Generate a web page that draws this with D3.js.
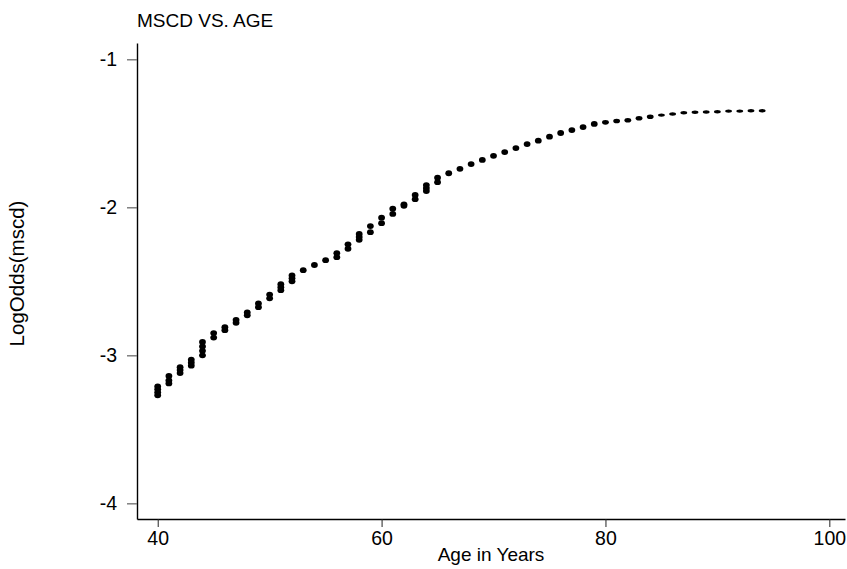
<!DOCTYPE html>
<html>
<head>
<meta charset="utf-8">
<script src="https://cdn.jsdelivr.net/npm/d3@7"></script>
<style>
  html, body { margin: 0; padding: 0; background: #fff; }
  svg { display: block; font-family: "Liberation Sans", Arial, sans-serif; }
</style>
</head>
<body>
<svg id="chart" width="847" height="569"></svg>
<script>
// ---- data ----
const title = "MSCD VS. AGE";
const xLabel = "Age in Years";
const yLabel = "LogOdds(mscd)";
const xTicks = [40, 60, 80, 100];
const yTicks = [-1, -2, -3, -4];
const ages = [40,41,42,43,44,45,46,47,48,49,50,51,52,53,54,55,56,57,58,59,60,61,62,63,64,65,66,67,68,69,70,71,72,73,74,75,76,77,78,79,80,81,82,83,84,85,86,87,88,89,90,91,92,93,94];
const logOdds = [
  [-3.21,-3.23,-3.25,-3.27],
  [-3.14,-3.17,-3.19],
  [-3.08,-3.10,-3.12],
  [-3.03,-3.05,-3.07],
  [-2.91,-2.94,-2.97,-3.00],
  [-2.85,-2.88],
  [-2.81,-2.83],
  [-2.76,-2.78],
  [-2.71,-2.73],
  [-2.65,-2.675],
  [-2.59,-2.615],
  [-2.52,-2.54,-2.56],
  [-2.46,-2.48,-2.50],
  [-2.425],
  [-2.39],
  [-2.357],
  [-2.31,-2.337],
  [-2.25,-2.28],
  [-2.18,-2.20,-2.22],
  [-2.127,-2.168],
  [-2.07,-2.107],
  [-2.01,-2.045],
  [-1.98,-1.99],
  [-1.917,-1.945],
  [-1.85,-1.87,-1.89],
  [-1.80,-1.83],
  [-1.77],
  [-1.74],
  [-1.708],
  [-1.68],
  [-1.652],
  [-1.627],
  [-1.60],
  [-1.573],
  [-1.55],
  [-1.523],
  [-1.498],
  [-1.478],
  [-1.458],
  [-1.437],
  [-1.426],
  [-1.417],
  [-1.412],
  [-1.398],
  [-1.388],
  [-1.377],
  [-1.37],
  [-1.361],
  [-1.358],
  [-1.356],
  [-1.354],
  [-1.35],
  [-1.35],
  [-1.348],
  [-1.348]
];

// ---- layout ----
const svg = d3.select("#chart");
const mLeft = 137, mRight = 845, mTop = 43, mBottom = 519;
const FONT = "'Liberation Sans', Arial, sans-serif";

const x = d3.scaleLinear().domain([38.15, 101.4]).range([mLeft, mRight]);
const y = d3.scaleLinear().domain([-4.106, -0.89]).range([mBottom, mTop]);

const points = [];
ages.forEach((a, i) => logOdds[i].forEach(v => points.push({age: a, v: v})));

// markers
svg.append("g").selectAll("ellipse").data(points).join("ellipse")
  .attr("cx", d => x(d.age))
  .attr("cy", d => y(d.v))
  .attr("rx", 3.4)
  .attr("ry", d => d.age > 84 ? 1.7 : (d.age > 79 ? 2.3 : 2.9))
  .attr("fill", "#000");

// axes
const xAxis = d3.axisBottom(x).tickValues(xTicks).tickSize(8).tickPadding(4).tickSizeOuter(0);
const gx = svg.append("g").attr("transform", `translate(0,${mBottom})`).call(xAxis);
gx.select(".domain").attr("stroke", "#000").attr("stroke-width", 1.4);
gx.selectAll(".tick line").attr("stroke", "#222");
gx.selectAll(".tick text").attr("font-size", 19.5).attr("fill", "#000")
  .attr("font-family", FONT);

const yAxis = d3.axisLeft(y).tickValues(yTicks).tickSize(10).tickPadding(10).tickSizeOuter(0)
  .tickFormat(d3.format("d"));
const gy = svg.append("g").attr("transform", `translate(${mLeft},0)`).call(yAxis);
gy.select(".domain").attr("stroke", "#000").attr("stroke-width", 1.4);
gy.selectAll(".tick line").attr("stroke", "#777").attr("stroke-width", 1.4);
gy.selectAll(".tick text").attr("font-size", 19.5).attr("fill", "#000")
  .attr("font-family", FONT)
  .text(d => d < 0 ? "-" + Math.abs(d) : d);

// titles
svg.append("text").attr("x", mLeft).attr("y", 26.7)
  .attr("font-size", 19).attr("fill", "#000").text(title);

svg.append("text").attr("x", (mLeft + mRight) / 2).attr("y", 561)
  .attr("text-anchor", "middle").attr("font-size", 19).attr("fill", "#000").text(xLabel);

svg.append("text")
  .attr("transform", `translate(24,273.5) rotate(-90)`)
  .attr("text-anchor", "middle").attr("font-size", 20.5).attr("fill", "#000").text(yLabel);
</script>
</body>
</html>
